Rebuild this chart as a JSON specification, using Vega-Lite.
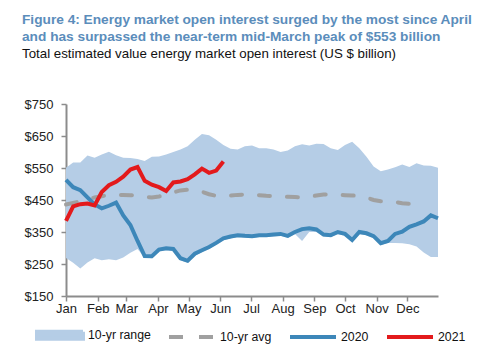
{
  "$schema": "https://vega.github.io/schema/vega-lite/v6.json",
  "autosize": {"type": "none"},
  "width": 372,
  "height": 192,
  "padding": {"left": 66, "top": 104, "right": 62, "bottom": 58},
  "background": "white",
  "title": {
    "text": ["Figure 4: Energy market open interest surged by the most since April", "and has surpassed the near-term mid-March peak of $553 billion"],
    "subtitle": "Total estimated value energy market open interest (US $ billion)",
    "anchor": "start",
    "frame": "group",
    "dx": -44,
    "offset": 38,
    "font": "Liberation Sans",
    "fontSize": 13.7,
    "fontWeight": "bold",
    "color": "#5b8dbb",
    "lineHeight": 17,
    "subtitleFont": "Liberation Sans",
    "subtitleFontSize": 13.3,
    "subtitleColor": "#111111",
    "subtitlePadding": 3
  },
  "data": {
    "values": [
      {"date": "2021-01-01", "lo": 269, "hi": 551, "avg": 436, "y2020": 513, "y2021": 385},
      {"date": "2021-01-08", "lo": 254, "hi": 567, "avg": 441, "y2020": 490, "y2021": 430},
      {"date": "2021-01-15", "lo": 236, "hi": 567, "avg": 446, "y2020": 481, "y2021": 437},
      {"date": "2021-01-22", "lo": 255, "hi": 589, "avg": 452, "y2020": 458, "y2021": 439},
      {"date": "2021-01-29", "lo": 268, "hi": 582, "avg": 458, "y2020": 436, "y2021": 433},
      {"date": "2021-02-05", "lo": 262, "hi": 592, "avg": 462, "y2020": 424, "y2021": 475},
      {"date": "2021-02-12", "lo": 265, "hi": 601, "avg": 465, "y2020": 432, "y2021": 496},
      {"date": "2021-02-19", "lo": 262, "hi": 590, "avg": 466, "y2020": 442, "y2021": 507},
      {"date": "2021-02-26", "lo": 270, "hi": 582, "avg": 466, "y2020": 402, "y2021": 523},
      {"date": "2021-03-05", "lo": 285, "hi": 581, "avg": 465, "y2020": 372, "y2021": 545},
      {"date": "2021-03-12", "lo": 297, "hi": 578, "avg": 463, "y2020": 322, "y2021": 553},
      {"date": "2021-03-19", "lo": 270, "hi": 572, "avg": 460, "y2020": 275, "y2021": 510},
      {"date": "2021-03-26", "lo": 268, "hi": 585, "avg": 458, "y2020": 274, "y2021": 498},
      {"date": "2021-04-02", "lo": 290, "hi": 586, "avg": 461, "y2020": 295, "y2021": 490},
      {"date": "2021-04-09", "lo": 293, "hi": 592, "avg": 466, "y2020": 299, "y2021": 478},
      {"date": "2021-04-16", "lo": 291, "hi": 600, "avg": 474, "y2020": 297, "y2021": 505},
      {"date": "2021-04-23", "lo": 262, "hi": 608, "avg": 480, "y2020": 268, "y2021": 508},
      {"date": "2021-04-30", "lo": 254, "hi": 618, "avg": 482, "y2020": 260, "y2021": 515},
      {"date": "2021-05-07", "lo": 276, "hi": 638, "avg": 481, "y2020": 282, "y2021": 530},
      {"date": "2021-05-14", "lo": 287, "hi": 656, "avg": 476, "y2020": 293, "y2021": 548},
      {"date": "2021-05-21", "lo": 297, "hi": 652, "avg": 468, "y2020": 303, "y2021": 535},
      {"date": "2021-05-28", "lo": 310, "hi": 638, "avg": 463, "y2020": 316, "y2021": 542},
      {"date": "2021-06-04", "lo": 324, "hi": 622, "avg": 462, "y2020": 330, "y2021": 570},
      {"date": "2021-06-11", "lo": 330, "hi": 610, "avg": 464, "y2020": 336, "y2021": null},
      {"date": "2021-06-18", "lo": 334, "hi": 608, "avg": 466, "y2020": 340, "y2021": null},
      {"date": "2021-06-25", "lo": 332, "hi": 618, "avg": 467, "y2020": 338, "y2021": null},
      {"date": "2021-07-02", "lo": 331, "hi": 620, "avg": 467, "y2020": 337, "y2021": null},
      {"date": "2021-07-09", "lo": 334, "hi": 612, "avg": 465, "y2020": 340, "y2021": null},
      {"date": "2021-07-16", "lo": 334, "hi": 612, "avg": 463, "y2020": 340, "y2021": null},
      {"date": "2021-07-23", "lo": 336, "hi": 608, "avg": 462, "y2020": 342, "y2021": null},
      {"date": "2021-07-30", "lo": 338, "hi": 600, "avg": 461, "y2020": 344, "y2021": null},
      {"date": "2021-08-06", "lo": 332, "hi": 605, "avg": 460, "y2020": 338, "y2021": null},
      {"date": "2021-08-13", "lo": 344, "hi": 618, "avg": 459, "y2020": 350, "y2021": null},
      {"date": "2021-08-20", "lo": 322, "hi": 624, "avg": 458, "y2020": 359, "y2021": null},
      {"date": "2021-08-27", "lo": 350, "hi": 620, "avg": 460, "y2020": 362, "y2021": null},
      {"date": "2021-09-03", "lo": 350, "hi": 626, "avg": 464, "y2020": 358, "y2021": null},
      {"date": "2021-09-10", "lo": 336, "hi": 625, "avg": 467, "y2020": 342, "y2021": null},
      {"date": "2021-09-17", "lo": 334, "hi": 612, "avg": 467, "y2020": 340, "y2021": null},
      {"date": "2021-09-24", "lo": 343, "hi": 606, "avg": 466, "y2020": 350, "y2021": null},
      {"date": "2021-10-01", "lo": 338, "hi": 622, "avg": 465, "y2020": 344, "y2021": null},
      {"date": "2021-10-08", "lo": 319, "hi": 632, "avg": 464, "y2020": 325, "y2021": null},
      {"date": "2021-10-15", "lo": 343, "hi": 612, "avg": 463, "y2020": 350, "y2021": null},
      {"date": "2021-10-22", "lo": 340, "hi": 585, "avg": 458, "y2020": 346, "y2021": null},
      {"date": "2021-10-29", "lo": 331, "hi": 555, "avg": 450, "y2020": 337, "y2021": null},
      {"date": "2021-11-05", "lo": 309, "hi": 540, "avg": 446, "y2020": 315, "y2021": null},
      {"date": "2021-11-12", "lo": 316, "hi": 545, "avg": 446, "y2020": 322, "y2021": null},
      {"date": "2021-11-19", "lo": 316, "hi": 552, "avg": 444, "y2020": 344, "y2021": null},
      {"date": "2021-11-26", "lo": 315, "hi": 561, "avg": 440, "y2020": 351, "y2021": null},
      {"date": "2021-12-03", "lo": 312, "hi": 553, "avg": 438, "y2020": 366, "y2021": null},
      {"date": "2021-12-10", "lo": 305, "hi": 565, "avg": 438, "y2020": 374, "y2021": null},
      {"date": "2021-12-17", "lo": 286, "hi": 558, "avg": 436, "y2020": 383, "y2021": null},
      {"date": "2021-12-24", "lo": 272, "hi": 557, "avg": null, "y2020": 402, "y2021": null},
      {"date": "2021-12-31", "lo": 272, "hi": 551, "avg": null, "y2020": 393, "y2021": null}
    ]
  },
  "encoding": {
    "x": {
      "field": "date",
      "type": "temporal",
      "scale": {"type": "utc", "domain": [{"year": 2021, "month": 1, "date": 1, "utc": true}, {"year": 2021, "month": 12, "date": 31, "utc": true}]},
      "axis": {
        "title": null,
        "labelExpr": "utcFormat(datum.value, '%b')",
        "tickCount": {"interval": "month", "step": 1},
        "grid": false,
        "domainColor": "#8c8c8c",
        "domainWidth": 2,
        "tickColor": "#8c8c8c",
        "tickWidth": 1.5,
        "tickSize": 5,
        "labelFontSize": 13,
        "labelColor": "#222222",
        "labelAlign": "center",
        "labelFlush": false,
        "labelOverlap": false,
        "labelPadding": 1
      }
    },
    "y": {
      "type": "quantitative",
      "scale": {"domain": [150, 750], "nice": false, "zero": false},
      "axis": {
        "title": null,
        "values": [150, 250, 350, 450, 550, 650, 750],
        "labelExpr": "'$' + datum.value",
        "labelOverlap": false,
        "grid": false,
        "domainColor": "#8c8c8c",
        "domainWidth": 2,
        "tickColor": "#8c8c8c",
        "tickWidth": 1.5,
        "tickSize": 5,
        "labelFontSize": 13,
        "labelColor": "#222222",
        "labelPadding": 8
      }
    },
    "color": {
      "type": "nominal",
      "scale": {"domain": ["10-yr range", "10-yr avg", "2020", "2021"], "range": ["#b5cde6", "#a0a0a0", "#3d87b9", "#e31a1c"]},
      "legend": {
        "symbolSize": 2116,
        "encode": {
          "symbols": {
            "update": {
              "size": {"value": 2116},
              "strokeWidth": {"value": 4},
              "shape": {"signal": "datum.value === '10-yr range' ? 'M-1,-0.15H1V0.15H-1Z' : 'stroke'"},
              "fill": {"signal": "datum.value === '10-yr range' ? '#b5cde6' : 'transparent'"},
              "stroke": {"signal": "datum.value === '10-yr range' ? 'transparent' : datum.value === '10-yr avg' ? '#a0a0a0' : datum.value === '2020' ? '#3d87b9' : '#e31a1c'"},
              "strokeDash": {"signal": "datum.value === '10-yr avg' ? [14, 16] : [1, 0]"},
              "opacity": {"value": 1}
            }
          }
        }
      }
    }
  },
  "layer": [
    {
      "mark": {"type": "area", "opacity": 1},
      "encoding": {
        "y": {"field": "lo"},
        "y2": {"field": "hi"},
        "color": {"datum": "10-yr range"}
      }
    },
    {
      "mark": {"type": "line", "strokeWidth": 4, "strokeDash": [11, 17], "strokeCap": "round"},
      "encoding": {"y": {"field": "avg"}, "color": {"datum": "10-yr avg"}}
    },
    {
      "mark": {"type": "line", "strokeWidth": 4},
      "encoding": {"y": {"field": "y2020"}, "color": {"datum": "2020"}}
    },
    {
      "mark": {"type": "line", "strokeWidth": 4},
      "encoding": {"y": {"field": "y2021"}, "color": {"datum": "2021"}}
    }
  ],
  "config": {
    "view": {"stroke": null},
    "font": "Liberation Sans",
    "legend": {
      "orient": "none",
      "legendX": -31,
      "legendY": 206,
      "direction": "horizontal",
      "title": null,
      "symbolSize": 2116,
      "labelFontSize": 12.3,
      "labelColor": "#111111",
      "labelOffset": 3,
      "columnPadding": 10
    }
  }
}
